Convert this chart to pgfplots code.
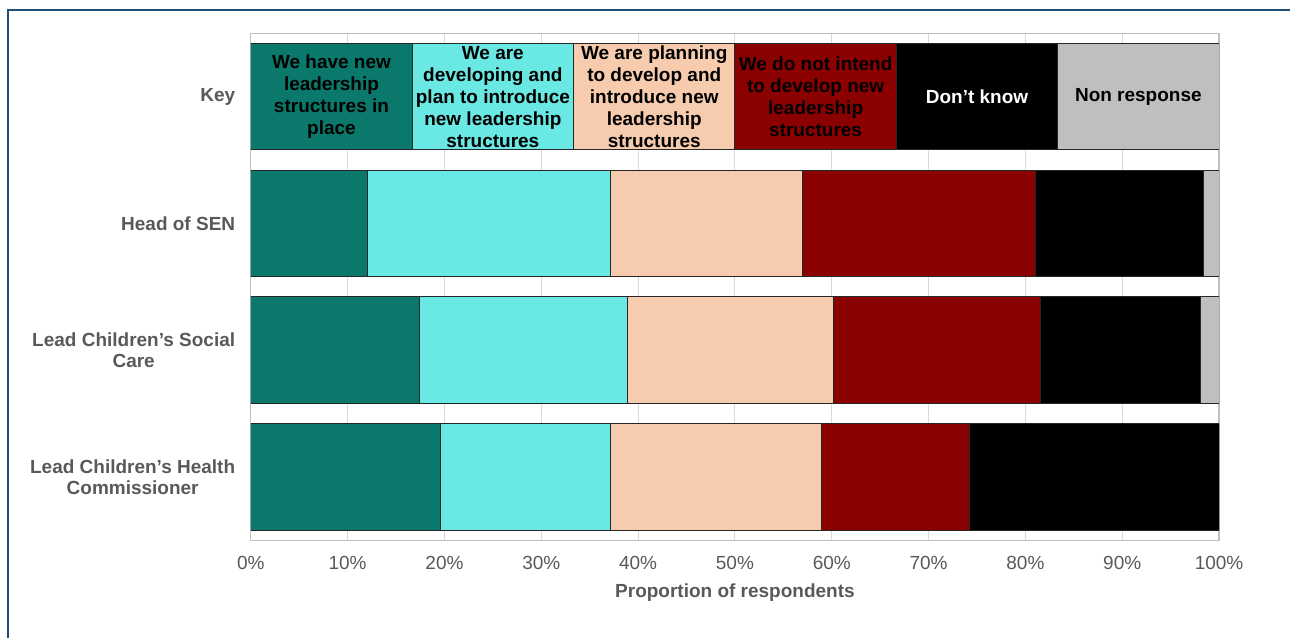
\documentclass[border=0pt]{standalone}
\usepackage{pgfplots}
\pgfplotsset{compat=1.18}
\usepackage{fontspec}
\setmainfont{Liberation Sans}

\definecolor{cTeal}{HTML}{0A786A}
\definecolor{cCyan}{HTML}{6AE8E4}
\definecolor{cPeach}{HTML}{F7CBAD}
\definecolor{cRed}{HTML}{8B0000}
\definecolor{cGrey}{HTML}{BFBFBF}
\definecolor{cText}{HTML}{595959}
\definecolor{cGrid}{HTML}{D9D9D9}
\definecolor{cFrame}{HTML}{1F4E79}

\newcommand{\keyfont}{\bfseries\fontsize{9.5}{11}\selectfont}

\begin{document}
\begin{tikzpicture}
\begin{axis}[
    at={(0,0)}, anchor=south west,
    scale only axis, width=484.5pt, height=253.7pt,
    xbar stacked, bar width=53.25pt,
    xmin=0, xmax=100, ymin=-0.5, ymax=3.5,
    xtick={0,10,...,100},
    xticklabels={0\%,10\%,20\%,30\%,40\%,50\%,60\%,70\%,80\%,90\%,100\%},
    ytick={0,1,2,3},
    yticklabels={{Lead Children’s Health\\Commissioner},{Lead Children’s Social\\Care},{Head of SEN},{Key}},
    xmajorgrids, major grid style={color=cGrid, line width=0.5pt},
    axis line style={color=cGrey, line width=0.6pt},
    major tick length=0pt,
    tick label style={font=\fontsize{9.5}{10.5}\selectfont, text=cText},
    xticklabel style={yshift=-4.5pt},
    yticklabel style={font=\bfseries\fontsize{9.5}{10.4}\selectfont, align=center, xshift=-4.3pt},
    xlabel={Proportion of respondents},
    xlabel style={at={(axis description cs:0.5,0)}, anchor=center, yshift=-26pt,
        font=\bfseries\fontsize{9.5}{10.5}\selectfont, text=cText},
    every axis plot/.append style={draw=black!85, line width=0.5pt},
]
% rows: 3 = Key, 2 = Head of SEN, 1 = Lead Children's Social Care, 0 = Lead Children's Health Commissioner
\addplot[fill=cTeal]  coordinates {(16.6667,3) (12.1,2) (17.4,1) (19.6,0)};
\addplot[fill=cCyan]  coordinates {(16.6667,3) (25.0,2) (21.5,1) (17.6,0)};
\addplot[fill=cPeach] coordinates {(16.6667,3) (19.9,2) (21.3,1) (21.7,0)};
\addplot[fill=cRed]   coordinates {(16.6667,3) (24.0,2) (21.4,1) (15.3,0)};
\addplot[fill=black]  coordinates {(16.6667,3) (17.4,2) (16.5,1) (25.8,0)};
\addplot[fill=cGrey]  coordinates {(16.6667,3) (1.6,2) (1.9,1)};

\coordinate (k1) at (axis cs:8.3333,3);
\coordinate (k2) at (axis cs:25,3);
\coordinate (k3) at (axis cs:41.6667,3);
\coordinate (k4) at (axis cs:58.3333,3);
\coordinate (k5) at (axis cs:75,3);
\coordinate (k6) at (axis cs:91.6667,3);
\end{axis}
% key texts inside the top row
\node[font=\keyfont, align=center] at (k1) {We have new\\leadership\\structures in\\place};
\node[font=\keyfont, align=center] at (k2) {We are\\developing and\\plan to introduce\\new leadership\\structures};
\node[font=\keyfont, align=center] at (k3) {We are planning\\to develop and\\introduce new\\leadership\\structures};
\node[font=\keyfont, align=center] at (k4) {We do not intend\\to develop new\\leadership\\structures};
\node[font=\keyfont, align=center, text=white] at (k5) {Don’t know};
\node[font=\keyfont, align=center] at (k6) {Non response};

\draw[cFrame, line width=1pt] (-121.5pt,-49.15pt) -- (-121.5pt,265.35pt) -- (520pt,265.35pt);
\path[use as bounding box] (-125.5pt,-49.15pt) rectangle (520pt,270.35pt);
\end{tikzpicture}
\end{document}
